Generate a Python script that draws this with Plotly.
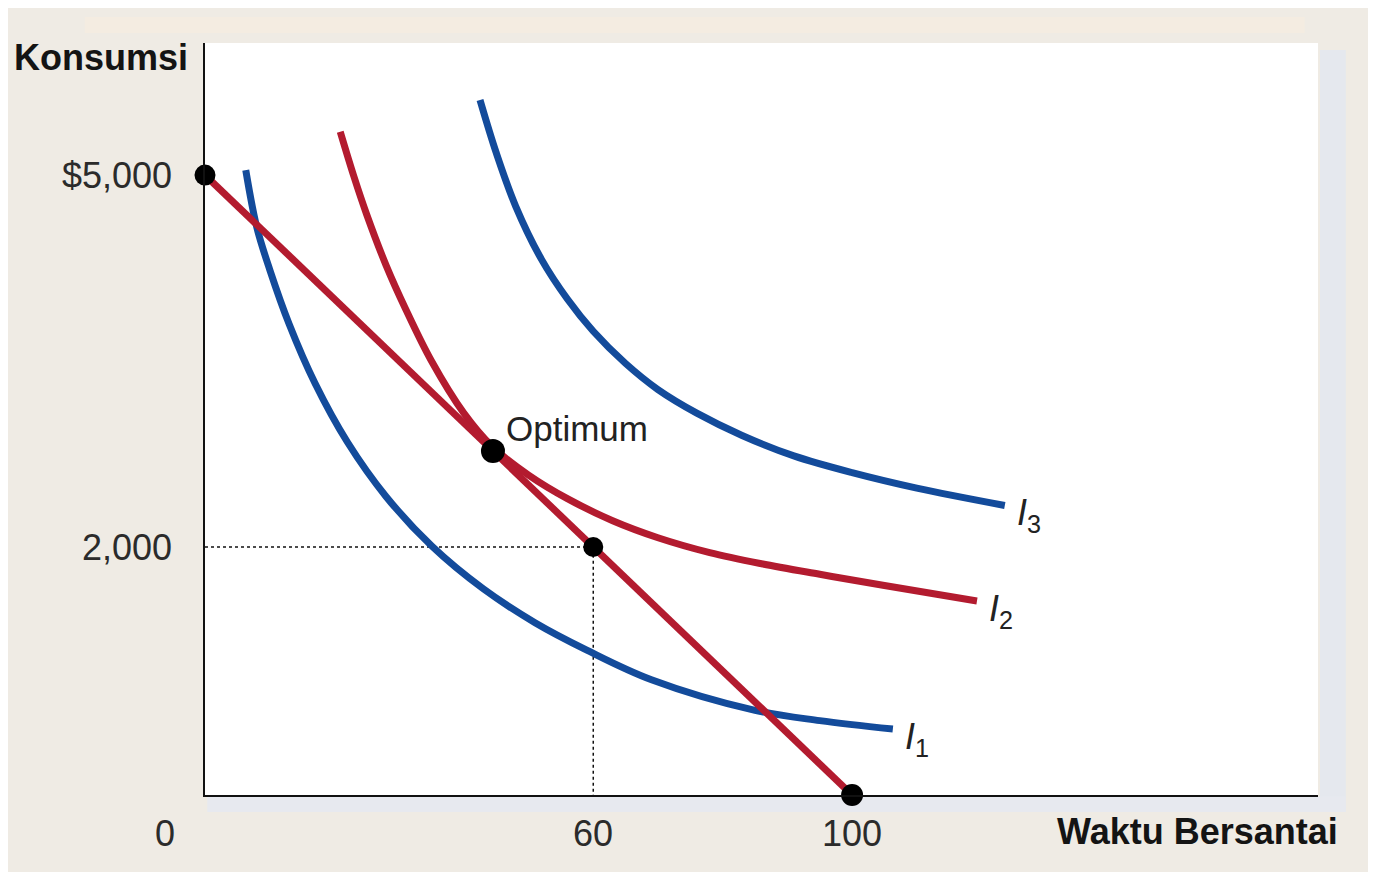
import plotly.graph_objects as go

# ---------------- data ----------------
budget_x = [0, 60, 100]
budget_y = [5000, 2000, 0]
optimum_x = [44.5]
optimum_y = [2775]

i1_x = [6.3, 8, 10, 13, 17, 22, 28, 35, 43, 51, 59, 69, 85, 95, 106.3]
i1_y = [5040, 4580, 4238, 3799, 3321, 2847, 2406, 2010, 1663, 1390, 1169, 930, 683, 600, 532]

i2_x = [20.9, 23, 25, 28, 31, 35, 40, 44.4, 50, 56, 63, 70, 78, 86, 95, 105, 119.3]
i2_y = [5349, 4990, 4680, 4270, 3920, 3500, 3080, 2810, 2580, 2390, 2212, 2075, 1955, 1865, 1780, 1690, 1565]

i3_x = [42.5, 45, 48, 52, 56, 60, 65, 70, 76, 83, 91, 100, 110, 123.6]
i3_y = [5605, 5180, 4750, 4320, 4000, 3740, 3480, 3270, 3080, 2900, 2735, 2600, 2475, 2335]

curve_names = ["1", "2", "3"]
x_tick_vals = [60, 100]
x_tick_text = ["60", "100"]
y_tick_vals = [5000, 2000]
y_tick_text = ["$5,000", "2,000"]
origin_text = "0"
x_title = "Waktu Bersantai"
y_title = "Konsumsi"
optimum_text = "Optimum"

# ---------------- styling ----------------
RED = "#b31b2f"
BLUE = "#134b9b"
BG = "#efebe4"
FONT = "Liberation Sans, Arial, sans-serif"
X_MAX = 172.0
Y_MAX = 6065

fig = go.Figure()

# dotted guides to the (60, 2000) point
fig.add_trace(go.Scatter(
    x=[0, budget_x[1], budget_x[1]], y=[budget_y[1], budget_y[1], 0],
    mode="lines", line=dict(color="#111", width=1.5, dash="dot"),
    hoverinfo="skip", showlegend=False, cliponaxis=False))

for xs, ys, col in [(i1_x, i1_y, BLUE), (i3_x, i3_y, BLUE), (i2_x, i2_y, RED)]:
    fig.add_trace(go.Scatter(
        x=xs, y=ys, mode="lines",
        line=dict(color=col, width=7, shape="spline", smoothing=1.0),
        showlegend=False, hoverinfo="skip", cliponaxis=False))

# budget line
fig.add_trace(go.Scatter(
    x=[budget_x[0], budget_x[-1]], y=[budget_y[0], budget_y[-1]], mode="lines",
    line=dict(color=RED, width=7), showlegend=False, hoverinfo="skip",
    cliponaxis=False))

# points
fig.add_trace(go.Scatter(
    x=budget_x + optimum_x, y=budget_y + optimum_y, mode="markers",
    marker=dict(color="#000000", size=[21, 20, 22, 24], opacity=1,
                line=dict(width=0)),
    showlegend=False, hoverinfo="skip", cliponaxis=False))

annotations = []
tick_font = dict(family=FONT, size=36, color="#2b2b2b")
for v, t in zip(x_tick_vals, x_tick_text):
    annotations.append(dict(x=v, y=0, xref="x", yref="y", text=t, showarrow=False,
                            xanchor="center", yanchor="middle", yshift=-38, font=tick_font))
for v, t in zip(y_tick_vals, y_tick_text):
    annotations.append(dict(x=0, y=v, xref="x", yref="y", text=t, showarrow=False,
                            xanchor="right", yanchor="middle", xshift=-31, yshift=0, font=tick_font))
annotations.append(dict(x=0, y=0, xref="x", yref="y", text=origin_text, showarrow=False,
                        xanchor="center", yanchor="middle", xshift=-40, yshift=-38, font=tick_font))

bold_font = dict(family=FONT, size=36, color="#141414")
annotations.append(dict(x=1.0198, y=-0.049, xref="paper", yref="paper", text="<b>" + x_title + "</b>",
                        showarrow=False, xanchor="right", yanchor="middle", font=bold_font))
annotations.append(dict(x=-0.0135, y=0.981, xref="paper", yref="paper", text="<b>" + y_title + "</b>",
                        showarrow=False, xanchor="right", yanchor="middle", font=bold_font))

annotations.append(dict(x=optimum_x[0], y=optimum_y[0], xref="x", yref="y", text=optimum_text,
                        showarrow=False, xanchor="left", yanchor="middle", xshift=11, yshift=22,
                        font=dict(family=FONT, size=35, color="#222")))

label_font = dict(family=FONT, size=36, color="#222")
for name, xs, ys in zip(curve_names, [i1_x, i2_x, i3_x], [i1_y, i2_y, i3_y]):
    annotations.append(dict(x=xs[-1], y=ys[-1], xref="x", yref="y",
                            text="<i>I</i><sub>" + name + "</sub>", showarrow=False,
                            xanchor="left", yanchor="middle", xshift=10, yshift=-10, font=label_font))

shapes = [
    # faint warm band at top
    dict(type="rect", xref="paper", yref="paper", x0=-0.108, x1=0.988, y0=1.0133, y1=1.0346,
         fillcolor="#f4ece1", line=dict(width=0), layer="below"),
    # right shadow
    dict(type="rect", xref="paper", yref="paper", x0=1.0018, x1=1.025, y0=-0.0226, y1=0.9907,
         fillcolor="#e5e8ee", line=dict(width=0), layer="below"),
    # bottom shadow
    dict(type="rect", xref="paper", yref="paper", x0=0.002, x1=1.025, y0=-0.0226, y1=-0.002,
         fillcolor="#e7e9ef", line=dict(width=0), layer="below"),
]

fig.update_layout(
    width=1376, height=872,
    margin=dict(l=197, r=66, t=35, b=85),
    paper_bgcolor=BG, plot_bgcolor="#ffffff",
    showlegend=False,
    annotations=annotations, shapes=shapes,
    xaxis=dict(range=[0, X_MAX], showgrid=False, zeroline=False, showticklabels=False,
               ticks="", showline=True, linecolor="#111", linewidth=2, fixedrange=True),
    yaxis=dict(range=[0, Y_MAX], showgrid=False, zeroline=False, showticklabels=False,
               ticks="", showline=True, linecolor="#111", linewidth=2, fixedrange=True),
)

fig.write_html("out.html")
